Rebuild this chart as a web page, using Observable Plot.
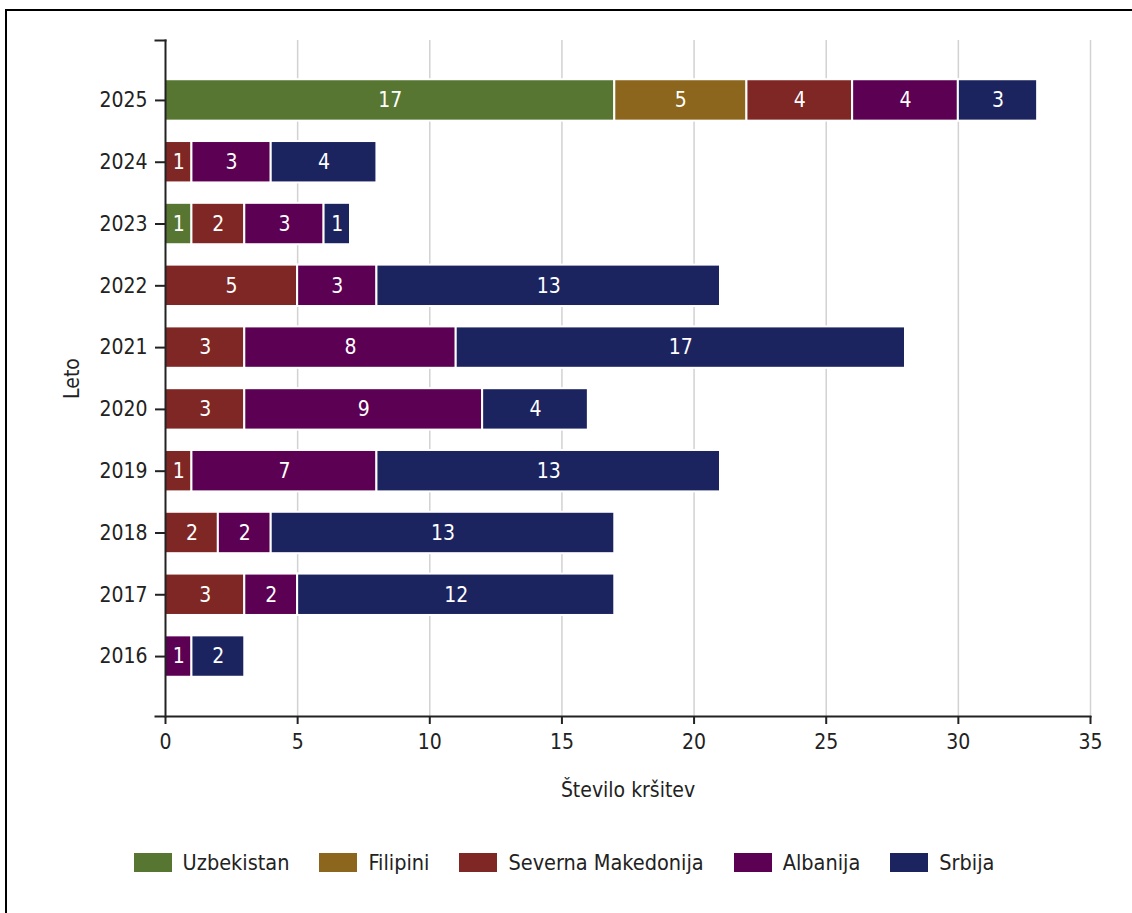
<!DOCTYPE html>
<html>
<head>
<meta charset="utf-8">
<script src="https://cdn.jsdelivr.net/npm/d3@7"></script>
<script src="https://cdn.jsdelivr.net/npm/@observablehq/plot@0.6"></script>
<style>
  html, body { margin: 0; padding: 0; background: #fff; }
  #wrap { position: relative; width: 1132px; height: 913px; overflow: hidden; }
  #border { position: absolute; left: 5px; top: 9px; width: 1300px; height: 1100px;
            border-left: 2px solid #000; border-top: 2px solid #000; box-sizing: border-box; }
  #chart { position: absolute; left: 0; top: 0; }
  #legend { position: absolute; left: -2px; top: 846px; width: 1132px; }
  #legend .lg-swatches { justify-content: center; font-family: "DejaVu Sans Condensed", "DejaVu Sans", sans-serif;
                         font-stretch: condensed; font-size: 21.5px; color: #222; margin: 0; }
  #legend .lg-swatch { margin-right: 30px; }
  #legend .lg-swatch:last-child { margin-right: 0; }
  #legend .lg-swatch > svg { margin-right: 11px; }
</style>
</head>
<body>
<div id="wrap">
  <div id="border"></div>
  <div id="chart"></div>
  <div id="legend"></div>
</div>
<script>
const years = ["2025","2024","2023","2022","2021","2020","2019","2018","2017","2016"];
const countries = ["Uzbekistan","Filipini","Severna Makedonija","Albanija","Srbija"];
const colors = ["#577632","#8b661c","#7e2724","#5b0052","#1c2460"];
const uzbekistan        = [17,0,1,0,0,0,0,0,0,0];
const filipini          = [5,0,0,0,0,0,0,0,0,0];
const severnaMakedonija = [4,1,2,5,3,3,1,2,3,0];
const albanija          = [4,3,3,3,8,9,7,2,2,1];
const srbija            = [3,4,1,13,17,4,13,13,12,2];
const xTicks = [0,5,10,15,20,25,30,35];
const xTitle = "Število kršitev";
const yTitle = "Leto";

const series = [uzbekistan, filipini, severnaMakedonija, albanija, srbija];
const rows = [];
series.forEach((vals, ci) => {
  vals.forEach((v, yi) => {
    if (v > 0) rows.push({year: years[yi], country: countries[ci], value: v});
  });
});

const W = 1132, H = 830;
const mL = 165, mR = 42, mT = 40, mB = 114;
const font = '"DejaVu Sans Condensed", "DejaVu Sans", sans-serif';

const chart = Plot.plot({
  width: W, height: H,
  marginLeft: mL, marginRight: mR, marginTop: mT, marginBottom: mB,
  style: { fontFamily: font, fontSize: "21px", color: "#222", background: "transparent", fontStretch: "condensed" },
  x: { domain: [0, 35] },
  y: { domain: years, paddingInner: 0.33, paddingOuter: 0.635, round: false },
  color: { domain: countries, range: colors },
  marks: [
    Plot.gridX(xTicks.slice(1), { stroke: "#d2d2d2", strokeOpacity: 1, strokeWidth: 1.5 }),
    Plot.barX(rows, Plot.stackX({ x: "value", y: "year", fill: "country", stroke: "#fff", strokeWidth: 2 })),
    Plot.text(rows, Plot.stackX({ x: "value", y: "year", z: "country", text: d => String(d.value), fill: "#fff", fontSize: 21 })),
    Plot.frame({ anchor: "left", stroke: "#222", strokeWidth: 2 }),
    Plot.frame({ anchor: "bottom", stroke: "#222", strokeWidth: 2, insetLeft: -10 }),
    Plot.frame({ anchor: "top", stroke: "#222", strokeWidth: 2, insetLeft: -10, insetRight: W - mL - mR }),
    Plot.axisX({ ticks: xTicks, tickSize: 8, tickPadding: 10, strokeWidth: 2, fontSize: 21,
                 label: xTitle, labelAnchor: "center", labelOffset: 80, labelArrow: "none" }),
    Plot.axisY({ tickSize: 10, tickPadding: 8, strokeWidth: 2, fontSize: 21,
                 label: yTitle, labelAnchor: "center", labelOffset: 101, labelArrow: "none" })
  ]
});
document.getElementById("chart").appendChild(chart);

const legend = Plot.legend({
  color: { domain: countries, range: colors },
  legend: "swatches",
  swatchWidth: 38, swatchHeight: 19,
  className: "lg"
});
document.getElementById("legend").appendChild(legend);
</script>
</body>
</html>
